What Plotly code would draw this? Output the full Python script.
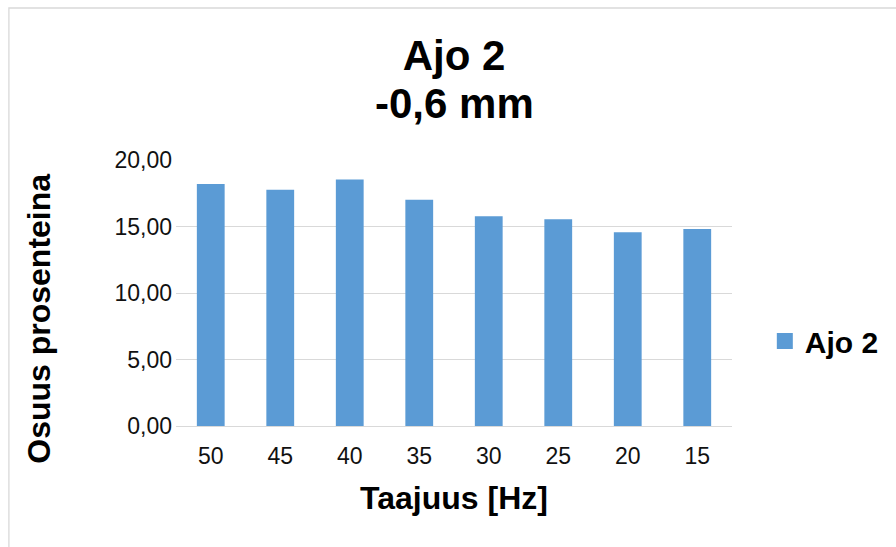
import plotly.graph_objects as go

# Frequency steps (Hz) and the share in percent for run "Ajo 2"
freqs = ["50", "45", "40", "35", "30", "25", "20", "15"]
shares = [18.20, 17.77, 18.54, 17.02, 15.77, 15.54, 14.56, 14.81]
series_name = "Ajo 2"
title_line1 = "Ajo 2"
title_line2 = "-0,6 mm"
y_ticks = [0, 5, 10, 15, 20]

BAR_COLOR = "#5B9BD5"
GRID_COLOR = "#D9D9D9"
FONT = "Arial, Liberation Sans, sans-serif"
H = 547

fig = go.Figure()

fig.add_trace(go.Bar(
    x=freqs,
    y=shares,
    name=series_name,
    marker=dict(color=BAR_COLOR, line=dict(width=0)),
    showlegend=False,
))

# legend entry with a larger square swatch
fig.add_trace(go.Scatter(
    x=[None], y=[None],
    mode="markers",
    name=series_name,
    marker=dict(symbol="square", size=16, color=BAR_COLOR),
    showlegend=True,
))

fig.update_layout(
    width=896,
    height=H,
    margin=dict(l=176, r=161, t=160, b=121),
    paper_bgcolor="white",
    plot_bgcolor="white",
    separators=", ",
    bargap=0.6,
    font=dict(family=FONT, color="black"),
    title=dict(
        text=f"<b>{title_line1}</b>",
        font=dict(size=42, family=FONT, color="black"),
        x=0.5, xref="paper", xanchor="center",
        y=1 - 55 / H, yref="container", yanchor="middle",
    ),
    xaxis=dict(
        type="category",
        showgrid=False,
        showline=False,
        ticks="",
        ticklabelstandoff=14,
        tickfont=dict(size=23, color="#111111"),
        title=dict(text="<b>Taajuus [Hz]</b>", font=dict(size=32, color="black"), standoff=18),
    ),
    yaxis=dict(
        range=[0, 20],
        tickvals=y_ticks,
        tickformat=".2f",
        showgrid=True,
        gridcolor=GRID_COLOR,
        gridwidth=1.3,
        zeroline=True,
        zerolinecolor=GRID_COLOR,
        zerolinewidth=1.3,
        showline=False,
        ticks="",
        ticklabelstandoff=3,
        tickfont=dict(size=23, color="#111111"),
    ),
    legend=dict(
        x=(768 - 176) / 559, xref="paper", xanchor="left",
        y=(426 - 341) / 266, yref="paper", yanchor="middle",
        font=dict(size=30, color="black", weight="bold"),
        bgcolor="rgba(0,0,0,0)",
    ),
    annotations=[
        # second title line
        dict(
            text=f"<b>{title_line2}</b>",
            x=0.5, xref="paper", xanchor="center",
            y=(426 - 103) / 266, yref="paper", yanchor="middle",
            showarrow=False,
            font=dict(size=42, color="black", family=FONT),
        ),
        dict(
            text="<b>Osuus prosenteina</b>",
            textangle=-90,
            x=(38 - 176) / 559, xref="paper", xanchor="center",
            y=(426 - 319) / 266, yref="paper", yanchor="middle",
            showarrow=False,
            font=dict(size=32, color="black", family=FONT),
        ),
    ],
    shapes=[
        # chart frame, only its top and left edges fall inside the page
        dict(
            type="rect", xref="paper", yref="paper",
            x0=(8 - 176) / 559, x1=2.0,
            y0=-1.0, y1=(426 - 8) / 266,
            line=dict(color=GRID_COLOR, width=1.3),
            fillcolor="rgba(0,0,0,0)",
            layer="below",
        )
    ],
)

fig.write_html("out.html")
